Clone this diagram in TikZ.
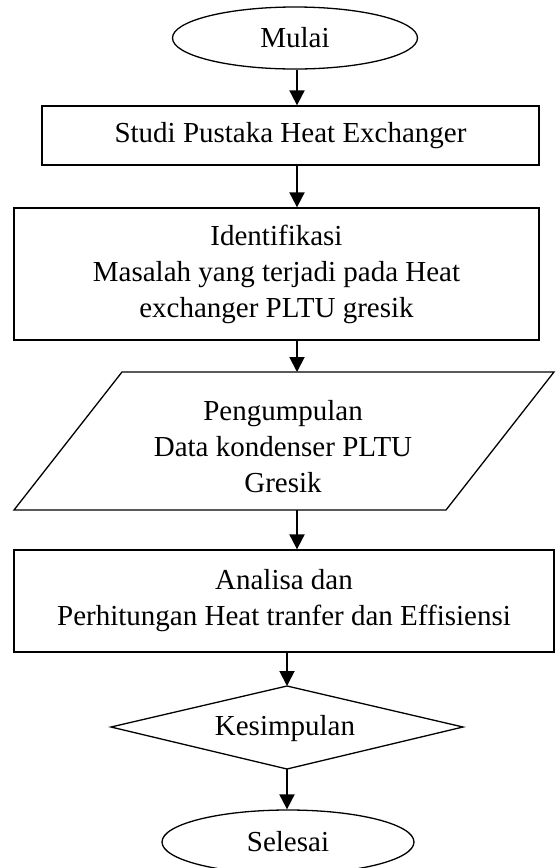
\documentclass[tikz,border=0pt]{standalone}
\usepackage{fontspec}
\setmainfont[Ligatures=NoCommon]{Liberation Serif}
\usetikzlibrary{shapes.geometric,arrows.meta,calc}
\begin{document}
\begin{tikzpicture}[x=1pt,y=-1pt,
  txt/.style={font=\fontsize{29}{36}\selectfont, align=center, inner sep=0pt},
  shp/.style={draw=black, line width=1.3pt},
  boxnode/.style={shp, rectangle, txt},
  ovalnode/.style={shp, ellipse, txt},
  arr/.style={line width=1.9pt, -{Triangle[length=15pt,width=15pt]}}]
\useasboundingbox (0,0) rectangle (555,868);
\fill[white] (0,0) rectangle (555,868);
\coordinate (ax) at (297,0);
\coordinate (bx) at (287,0);
% Mulai
\node[ovalnode, minimum width=245pt, minimum height=62pt] (mulai) at (295,38) {Mulai};
% Studi
\node[boxnode, minimum width=497pt, minimum height=59pt] (studi) at (290.5,135.5) {Studi Pustaka Heat Exchanger};
% Identifikasi
\node[boxnode, minimum width=525pt, minimum height=132pt] (ident) at (276.5,274)
  {Identifikasi\\Masalah yang terjadi pada Heat\\exchanger PLTU gresik};
% Parallelogram
\coordinate (p1) at (122,372);
\coordinate (p2) at (554,372);
\coordinate (p3) at (446,510);
\coordinate (p4) at (14,510);
\draw[shp, line join=miter] (p1) -- (p2) -- (p3) -- (p4) -- cycle;
\node[txt] (data) at (283,447) {Pengumpulan\\Data kondenser PLTU\\Gresik};
\coordinate (dtop) at (297,372);
\coordinate (dbot) at (297,510);
% Analisa
\node[boxnode, minimum width=540pt, minimum height=102pt] (analisa) at (284,601)
  {Analisa dan\\Perhitungan Heat tranfer dan Effisiensi};
% Diamond
\coordinate (kt) at (287,686);
\coordinate (kr) at (463,727);
\coordinate (kb) at (287,769);
\coordinate (kl) at (111,727);
\draw[shp, line join=miter] (kt) -- (kr) -- (kb) -- (kl) -- cycle;
\node[txt] (kes) at (285,729) {Kesimpulan};
% Selesai
\node[ovalnode, minimum width=252pt, minimum height=64pt] (selesai) at (288,842) {Selesai};
% Arrows
\draw[arr] (mulai.south -| ax) -- (studi.north -| ax);
\draw[arr] (studi.south -| ax) -- (ident.north -| ax);
\draw[arr] (ident.south -| ax) -- (dtop);
\draw[arr] (dbot) -- (analisa.north -| ax);
\draw[arr] (analisa.south -| bx) -- (kt);
\draw[arr] (kb) -- (selesai.north -| kb);
\end{tikzpicture}
\end{document}
